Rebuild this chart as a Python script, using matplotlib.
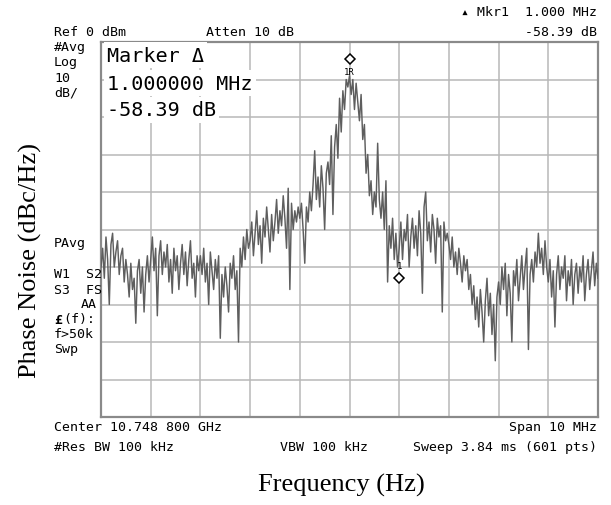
import numpy as np
import matplotlib
matplotlib.use("Agg")
import matplotlib.pyplot as plt

# trace, dBm, one line per 1 MHz division (30 pts each)
level_dbm = [
    -60, -55, -63, -52, -58, -70, -54, -51, -60, -56, -53, -62, -57, -55, -64, -58, -62, -68, -59, -66, -63, -75, -61, -58, -67, -60, -72, -62, -57, -64,
    -58, -52, -61, -55, -73, -57, -53, -62, -56, -60, -54, -64, -58, -67, -55, -61, -57, -66, -59, -54, -62, -56, -65, -58, -53, -63, -59, -68, -57, -61,
    -57, -62, -55, -64, -59, -70, -56, -61, -66, -58, -63, -57, -79, -62, -68, -60, -65, -72, -59, -63, -57, -66, -61, -80, -55, -60, -52, -58, -50, -55,
    -53, -48, -57, -51, -45, -54, -49, -59, -47, -52, -44, -50, -56, -46, -53, -48, -42, -51, -45, -49, -41, -47, -55, -39, -66, -43, -50, -45, -48, -44,
    -47, -43, -50, -59, -44, -48, -40, -45, -38, -29, -42, -36, -44, -33, -39, -50, -35, -32, -38, -25, -46, -28, -22, -31, -15, -24, -13, -18, -10, -12,
    -9, -14, -10, -18, -11, -16, -21, -14, -26, -22, -35, -30, -41, -37, -46, -40, -44, -27, -42, -47, -40, -50, -37, -64, -49, -55, -47, -58, -51, -60,
    -55, -48, -58, -50, -53, -46, -60, -52, -47, -55, -49, -57, -45, -51, -67, -44, -40, -53, -48, -56, -46, -50, -59, -47, -52, -49, -72, -48, -53, -51,
    -54, -58, -52, -60, -56, -62, -55, -59, -64, -57, -61, -58, -66, -62, -70, -65, -74, -68, -76, -66, -72, -80, -69, -63, -73, -67, -78, -70, -85, -68,
    -64, -70, -60, -66, -59, -73, -62, -67, -80, -61, -65, -58, -69, -63, -57, -66, -60, -55, -82, -62, -58, -64, -56, -60, -51, -59, -55, -62, -53, -60,
    -64, -58, -68, -61, -76, -62, -57, -66, -60, -63, -57, -69, -61, -65, -58, -70, -62, -59, -67, -60, -64, -57, -69, -62, -58, -66, -61, -56, -65, -59,
    -63,
]
span_mhz = 10
freq_mhz = np.linspace(-span_mhz / 2, span_mhz / 2, len(level_dbm))

ref_level = 0
db_per_div = 10
mkr_ref = (0.0, -4.5)        # 1R marker, offset MHz / dBm
mkr_delta = (1.0, -58.39)    # delta marker, MHz / dB

W, H = 611, 506
fig = plt.figure(figsize=(W / 100, H / 100), dpi=100)
ax = fig.add_axes([101 / W, 1 - 418 / H, 497 / W, 375 / H])

ax.set_xlim(-span_mhz / 2, span_mhz / 2)
ax.set_ylim(ref_level - 10 * db_per_div, ref_level)
ax.set_xticks(np.arange(-5, 6, 1))
ax.set_yticks(np.arange(-100, 1, 10))
ax.tick_params(length=0, labelbottom=False, labelleft=False)
ax.grid(True, color="#b8b8b8", lw=1.1)
ax.set_axisbelow(True)
for s in ax.spines.values():
    s.set_color("#8a8a8a")
    s.set_linewidth(1.6)

ax.plot(freq_mhz, level_dbm, color="#5e5e5e", lw=1.05, zorder=3)

# markers
ax.plot(mkr_ref[0], mkr_ref[1], marker="D", ms=5.5, mfc="white", mec="black", mew=1.1, zorder=5)
ax.annotate("1R", (mkr_ref[0], mkr_ref[1]), xytext=(0, -9), textcoords="offset points",
            ha="center", va="center", fontsize=6.5, family="DejaVu Sans Mono")
d_level = mkr_ref[1] + mkr_delta[1]
ax.plot(mkr_delta[0], d_level, marker="D", ms=5.5, mfc="white", mec="black", mew=1.1, zorder=5)
ax.annotate("1", (mkr_delta[0], d_level), xytext=(0, 9), textcoords="offset points",
            ha="center", va="center", fontsize=6.5, family="DejaVu Sans Mono")

mono = ["DejaVu Sans Mono", "DejaVu Sans"]


def t(x, y, s, size=9.5, ha="left", **kw):
    fig.text(x / W, 1 - y / H, s, fontsize=size, ha=ha, va="center", family=mono, **kw)


# header
t(597, 12, "\u25b4 Mkr1  1.000 MHz", ha="right")
t(54, 33, "Ref 0 dBm")
t(206, 33, "Atten 10 dB")
t(597, 33, "-58.39 dB", ha="right")

# left column
left_col = [(48, "#Avg"), (63, "Log"), (78, "10"), (93, "dB/"), (243, "PAvg"),
            (275, "W1  S2"), (290, "S3  FS"), (335, "f>50k"), (350, "Swp")]
for y, s in left_col:
    t(54, y, s)
t(97, 305, "AA", ha="right")
t(54, 320, "\u00a3", fontweight="bold")
t(63, 320, "(f):")

# marker readout box
box = dict(facecolor="white", edgecolor="none", boxstyle="square,pad=0.15")
t(107, 56, "Marker \u0394", size=14.5, bbox=box)
t(107, 84, "1.000000 MHz", size=14.5, bbox=box)
t(107, 111, "-58.39 dB", size=14.5, bbox=box)

# footer
t(54, 428, "Center 10.748 800 GHz")
t(597, 428, "Span 10 MHz", ha="right")
t(54, 448, "#Res BW 100 kHz")
t(280, 448, "VBW 100 kHz")
t(597, 448, "Sweep 3.84 ms (601 pts)", ha="right")

serif = "Liberation Serif"
fig.text(341 / W, 1 - 485 / H, "Frequency (Hz)", fontsize=19, family=serif, ha="center", va="center")
fig.text(30 / W, 1 - 260 / H, "Phase Noise (dBc/Hz)", fontsize=19, family=serif,
         ha="center", va="center", rotation=90)

fig.savefig("out.png", dpi=100, facecolor="white")
